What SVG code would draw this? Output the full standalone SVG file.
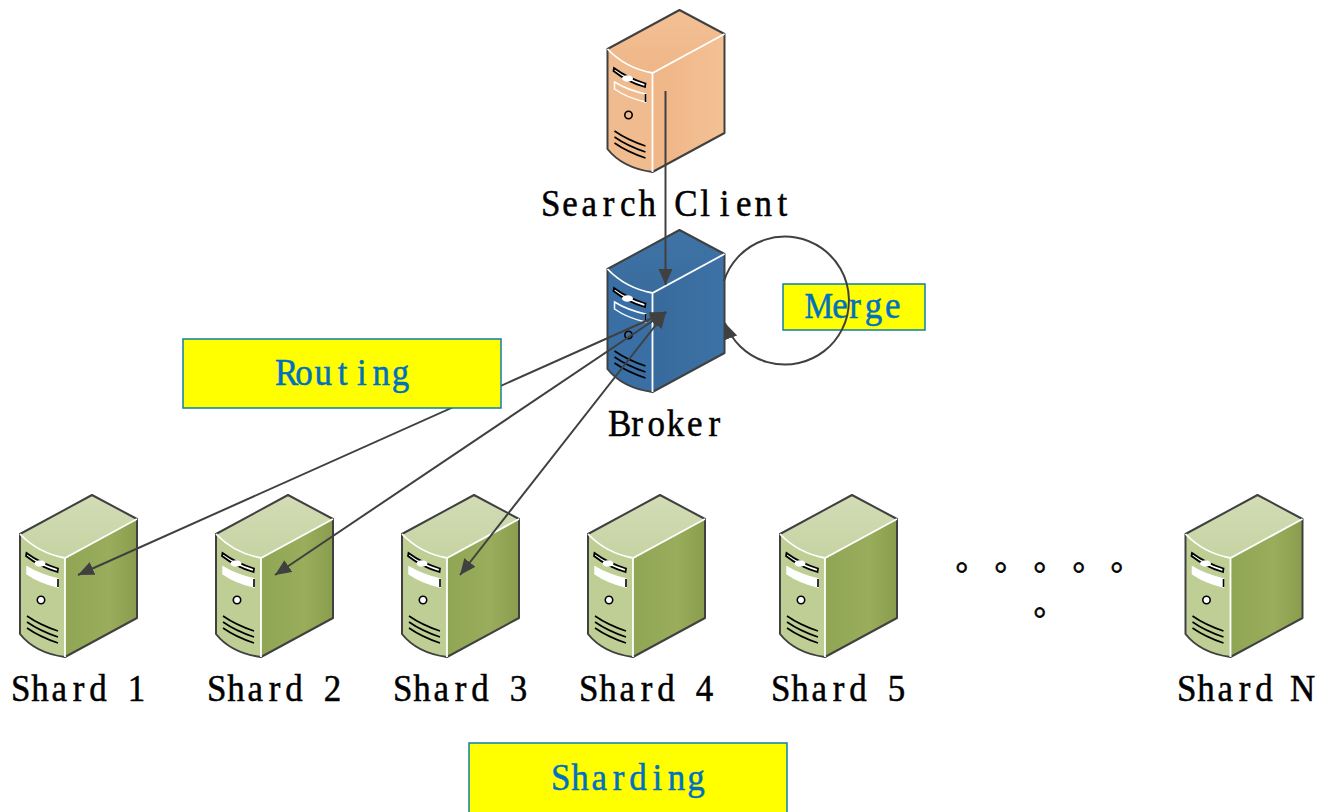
<svg xmlns="http://www.w3.org/2000/svg" width="1319" height="812" viewBox="0 0 1319 812">
<style>
.lbl{font-family:"Liberation Serif",serif;font-size:38px;fill:#000;stroke:#000;stroke-width:.5px}
.tag{font-family:"Liberation Serif",serif;font-size:38px;fill:#0070c0;stroke:#0070c0;stroke-width:.5px}
.box{fill:#ff0;stroke:#0e7fa8;stroke-width:1.5}
.dots{font-family:"Noto Sans CJK SC",sans-serif;font-size:32px;fill:#000;stroke:#000;stroke-width:.6px}
.con{fill:none;stroke:#404040;stroke-width:2}
.green{--top:url(#gt);--front:#bfce94;--side:url(#gs);--panel:#fff}
.orange{--top:url(#ot);--front:#f0bb8e;--side:url(#os);--panel:none}
.blue{--top:url(#bt);--front:#3a6fa5;--side:url(#bs);--panel:none}
.o{stroke:#404040;stroke-width:2;stroke-linejoin:round}
.w{fill:none;stroke:#fff;stroke-width:1.8}
.k{fill:none;stroke:#000;stroke-width:1.6}
</style>
<defs>
<linearGradient id="gt" x1="0" y1="0" x2="0" y2="1"><stop offset="0" stop-color="#d3dcb6"/><stop offset="1" stop-color="#c6d3a2"/></linearGradient>
<linearGradient id="gs" x1="0" y1="0" x2="1" y2="0"><stop offset="0" stop-color="#90a654"/><stop offset=".6" stop-color="#99ad5c"/><stop offset="1" stop-color="#8a9d4e"/></linearGradient>
<linearGradient id="ot" x1="0" y1="0" x2="0" y2="1"><stop offset="0" stop-color="#f2c096"/><stop offset="1" stop-color="#efb686"/></linearGradient>
<linearGradient id="os" x1="0" y1="0" x2="1" y2="0"><stop offset="0" stop-color="#efb586"/><stop offset="1" stop-color="#f3c195"/></linearGradient>
<linearGradient id="bt" x1="0" y1="0" x2="0" y2="1"><stop offset="0" stop-color="#3f74a8"/><stop offset="1" stop-color="#3a6b9c"/></linearGradient>
<linearGradient id="bs" x1="0" y1="0" x2="1" y2="0"><stop offset="0" stop-color="#386a9c"/><stop offset="1" stop-color="#3d72a6"/></linearGradient>
<marker id="ah" markerUnits="userSpaceOnUse" markerWidth="17" markerHeight="15" refX="16" refY="7" orient="auto-start-reverse"><path d="M0 0L16 7L0 14Z" fill="#404040"/></marker>
<g id="server">
<path d="M0 39L72 0L117 24L45 63Q18 58 0 39Z" style="fill:var(--top)"/>
<path d="M45 63L117 24V123L45 162Z" style="fill:var(--side)"/>
<path d="M0 39Q18 58 45 63V162Q15 158 0 139Z" style="fill:var(--front)"/>
<path d="M0 39L72 0L117 24V123L45 162Q15 158 0 139Z" fill="none" class="o"/>
<path d="M0 39Q18 58 45 63L117 24M45 63V162" class="w"/>
<path d="M6.500 58Q20 68 38 73.500L37.500 77Q20 72 6 61Z" fill="#fff" stroke="#000" stroke-width="1.800"/>
<ellipse cx="20" cy="68.500" rx="5.500" ry="3.200" fill="#fff"/>
<path d="M7 72Q20 80 38 84V92Q20 88 7 79Z" stroke="#fff" stroke-width="1.500" style="fill:var(--panel)"/>
<path d="M38 84V92" class="k"/>
<circle cx="21" cy="105" r="3.700" stroke="#000" stroke-width="1.600" style="fill:var(--panel)"/>
<path d="M7 121Q20 130 38 136M7 127Q20 136 38 142M7 133Q20 142 38 148" class="k"/>
</g>
</defs>
<rect width="1319" height="812" fill="#fff"/>
<g id="client" class="orange"><use href="#server" x="607.500" y="10"/><text class="lbl" transform="translate(541 216) scale(.92 1)" x="0 23 44 67.200 86 106 126 144.900 173.200 194.200 212 232 257.200">Search Client</text></g>
<g id="broker" class="blue"><use href="#server" x="607.500" y="230"/><text class="lbl" transform="translate(608 436) scale(.92 1)" x="0 25.200 43 64 86 109.200">Broker</text></g>
<g id="shard1" class="green"><use href="#server" x="20" y="495"/><text class="lbl" transform="translate(11 701) scale(.92 1)" x="0 22 44 67.200 85 105 127">Shard 1</text></g>
<g id="shard2" class="green"><use href="#server" x="216" y="495"/><text class="lbl" transform="translate(207 701) scale(.92 1)" x="0 22 44 67.200 85 105 127">Shard 2</text></g>
<g id="shard3" class="green"><use href="#server" x="402" y="495"/><text class="lbl" transform="translate(393 701) scale(.92 1)" x="0 22 44 67.200 85 105 127">Shard 3</text></g>
<g id="shard4" class="green"><use href="#server" x="588" y="495"/><text class="lbl" transform="translate(579 701) scale(.92 1)" x="0 22 44 67.200 85 105 127">Shard 4</text></g>
<g id="shard5" class="green"><use href="#server" x="780" y="495"/><text class="lbl" transform="translate(771 701) scale(.92 1)" x="0 22 44 67.200 85 105 127">Shard 5</text></g>
<g id="shardN" class="green"><use href="#server" x="1185.500" y="495"/><text class="lbl" transform="translate(1177 701) scale(.92 1)" x="0 22 44 67.200 85 105 122.800">Shard N</text></g>
<g id="ellipsis"><text class="dots" x="955.400 994.400 1033.400 1072.400 1110.400" y="569.500">。。。。。</text><text class="dots" x="1033.400" y="614.500">。</text></g>
<g id="label-merge"><rect class="box" x="783" y="284" width="142" height="46"/><text class="tag" transform="translate(806 318) scale(.92 1)" x="-1.500 28.500 47 64 86"><tspan font-size="35">M</tspan>erge</text></g>
<g id="connectors">
<path class="con" d="M665.500 91V285" marker-end="url(#ah)"/>
<path class="con" d="M666 312L78 575" marker-start="url(#ah)" marker-end="url(#ah)"/>
<path class="con" d="M666 312L275 575" marker-start="url(#ah)" marker-end="url(#ah)"/>
<path class="con" d="M666 312L460 575" marker-start="url(#ah)" marker-end="url(#ah)"/>
<path class="con" d="M724 281A64 64 0 1 1 725 323" marker-end="url(#ah)"/>
</g>
<g id="label-routing"><rect class="box" x="183" y="339" width="318" height="69"/><text class="tag" transform="translate(275 385) scale(.92 1)" x="0 22 43 68.200 89.200 106 127">Routing</text></g>
<g id="label-sharding"><rect class="box" x="469" y="743" width="318" height="90"/><text class="tag" transform="translate(551 790) scale(.92 1)" x="0 22 44 67.200 85 110.200 127 148">Sharding</text></g>
</svg>
